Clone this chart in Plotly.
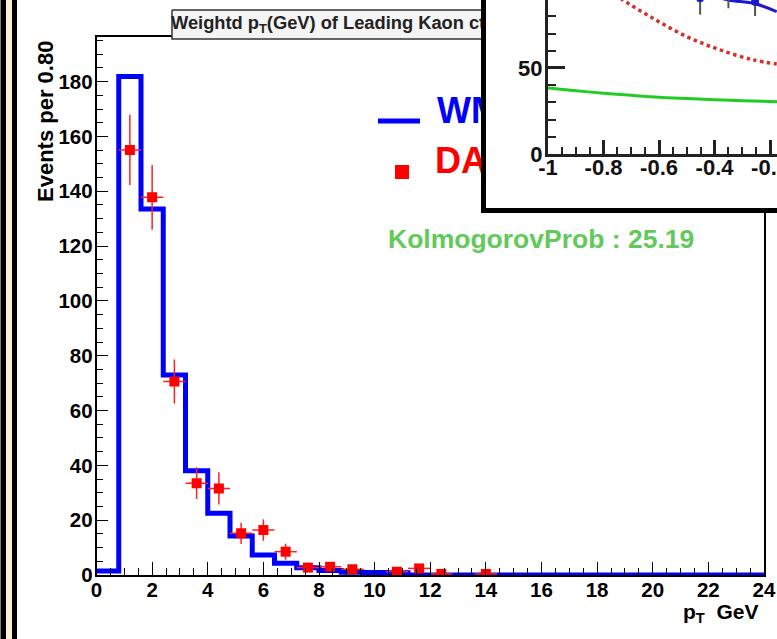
import numpy as np
import plotly.graph_objects as go

W, H = 777, 639
FONT = "Liberation Sans, Arial, Helvetica, sans-serif"


def fx(px):
    return px / W


def fy(py):
    return (H - py) / H


# ---------------- main chart data ----------------
bin_width = 0.8
mc_values = [1.5, 181.9, 133.5, 73.0, 38.0, 22.5, 14.2, 7.3, 4.3, 2.6,
             1.6, 1.0, 0.9, 0.8, 0.0, 0.0, 0.0, 0.0, 0.0, 0.0,
             0.0, 0.0, 0.0, 0.0, 0.0, 0.0, 0.0, 0.0, 0.0, 0.0]
bin_edges = np.round(np.arange(len(mc_values) + 1) * bin_width, 2)

data_x = [1.2, 2.0, 2.8, 3.6, 4.4, 5.2, 6.0, 6.8, 7.6, 8.4, 9.2, 10.8, 11.6, 12.4, 14.0]
data_y = [155.1, 137.8, 70.6, 33.5, 31.6, 15.2, 16.4, 8.5, 2.7, 3.0, 2.1, 1.2, 2.4, 0.4, 0.4]
data_err = [12.8, 11.8, 8.0, 5.8, 5.9, 3.9, 3.9, 2.9, 1.6, 1.7, 1.4, 1.0, 1.5, 0.6, 0.6]
data_xerr = [0.4] * len(data_x)

main_title = "Weightd p<sub>T</sub>(GeV) of Leading Kaon cthetastar"
legend_labels = ["WMC", "DATA"]
ks_text = "KolmogorovProb : 25.19"
y_title = "Events per 0.80"
x_title = "p<sub>T</sub>  GeV"

# ---------------- inset data ----------------
inset_green_x = [-1.0, -0.9, -0.8, -0.7, -0.6, -0.5, -0.4, -0.3, -0.175]
inset_green_y = [38.4, 36.8, 35.3, 34.1, 33.0, 32.2, 31.6, 31.0, 30.4]
inset_red_x = [-0.78, -0.73, -0.622, -0.5, -0.38, -0.261, -0.176]
inset_red_y = [95.0, 89.5, 78.9, 68.2, 60.5, 54.7, 52.3]
inset_blue_x = [-0.42, -0.35, -0.254, -0.176]
inset_blue_y = [92.5, 89.5, 87.3, 82.7]
inset_pts_x = [-0.452, -0.350, -0.254]
inset_pts_y = [90.5, 95.0, 88.5]
inset_pts_err = [9.5, 10.3, 8.3]
inset_xticks = [-1.0, -0.8, -0.6, -0.4, -0.2]
inset_xticklabels = ["-1", "-0.8", "-0.6", "-0.4", "-0.2"]
inset_yticks = [0, 50]
inset_yticklabels = ["0", "50"]

fig = go.Figure()

# ---- main subplot (x, y) ----
fig.add_trace(go.Scatter(
    x=list(bin_edges), y=mc_values + [mc_values[-1]],
    mode="lines", line=dict(color="#0000ff", width=5, shape="hv"),
    xaxis="x", yaxis="y", hoverinfo="skip"))
fig.add_trace(go.Scatter(
    x=data_x, y=data_y, mode="markers",
    marker=dict(symbol="square", size=10, color="#ff0000"),
    error_y=dict(type="data", array=data_err, color="#ff2020", thickness=1.5, width=0),
    error_x=dict(type="data", array=data_xerr, color="#ff2020", thickness=1.5, width=0),
    xaxis="x", yaxis="y"))

# ---- overlay subplot (x2, y2): title box & legend, clipped at inset border ----
box_l, box_r, box_t, box_b = 172, 700, 10, 39
fig.add_trace(go.Scatter(
    x=[box_l, box_r, box_r, box_l, box_l], y=[box_t, box_t, box_b, box_b, box_t],
    mode="lines", fill="toself", fillcolor="#f4f4f4",
    line=dict(color="#333333", width=1.5), xaxis="x2", yaxis="y2", hoverinfo="skip"))
fig.add_trace(go.Scatter(
    x=[box_l - 1], y=[24.5], mode="text", text=[main_title], textposition="middle right",
    textfont=dict(family=FONT, size=18.3, color="#222222", weight="bold"),
    xaxis="x2", yaxis="y2", hoverinfo="skip"))
fig.add_trace(go.Scatter(
    x=[378, 420], y=[121, 121], mode="lines", line=dict(color="#0000ff", width=5),
    xaxis="x2", yaxis="y2", hoverinfo="skip"))
fig.add_trace(go.Scatter(
    x=[402], y=[172], mode="markers", marker=dict(symbol="square", size=14, color="#ff0000"),
    xaxis="x2", yaxis="y2", hoverinfo="skip"))
fig.add_trace(go.Scatter(
    x=[437, 435], y=[114, 164], mode="text", text=legend_labels, textposition="middle right",
    textfont=dict(family=FONT, size=36, color=["#0000ff", "#ff0000"], weight="bold"),
    xaxis="x2", yaxis="y2", hoverinfo="skip"))

# ---- inset background (x3, y3) ----
fig.add_trace(go.Scatter(
    x=[0, 1, 1, 0, 0], y=[0, 0, 1, 1, 0], mode="lines", fill="toself",
    fillcolor="white", line=dict(width=0, color="white"),
    xaxis="x3", yaxis="y3", hoverinfo="skip"))

# ---- inset data (x4, y4) ----
fig.add_trace(go.Scatter(
    x=inset_green_x, y=inset_green_y, mode="lines",
    line=dict(color="#22cc22", width=3, shape="spline"), xaxis="x4", yaxis="y4"))
fig.add_trace(go.Scatter(
    x=inset_red_x, y=inset_red_y, mode="lines",
    line=dict(color="#d43030", width=3.5, dash="dot", shape="spline"), xaxis="x4", yaxis="y4"))
fig.add_trace(go.Scatter(
    x=inset_blue_x, y=inset_blue_y, mode="lines",
    line=dict(color="#1a1acc", width=3, shape="spline"), xaxis="x4", yaxis="y4"))
fig.add_trace(go.Scatter(
    x=inset_pts_x, y=inset_pts_y, mode="markers",
    marker=dict(size=8, color="#1a1acc"),
    error_y=dict(type="data", array=inset_pts_err, color="#555555", thickness=2, width=0),
    xaxis="x4", yaxis="y4"))

tickfont = dict(family=FONT, size=20.5, color="black", weight="bold")
inset_tickfont = dict(family=FONT, size=22, color="#111111", weight="bold")

fig.update_layout(
    width=W, height=H, autosize=False,
    margin=dict(l=0, r=0, t=0, b=0, pad=0, autoexpand=False),
    paper_bgcolor="white", plot_bgcolor="rgba(0,0,0,0)",
    showlegend=False,
    xaxis=dict(domain=[fx(96.5), fx(764)], range=[0, 24], anchor="y",
               tick0=0, dtick=2, ticks="inside", ticklen=13, tickwidth=1.2, tickcolor="black",
               minor=dict(dtick=0.5, ticks="inside", ticklen=7, tickwidth=1.2, tickcolor="black"),
               showline=True, mirror=True, linecolor="black", linewidth=1.5,
               showgrid=False, zeroline=False, tickfont=tickfont, ticklabelstandoff=-4,
               ticklabeloverflow="allow", automargin=False),
    yaxis=dict(domain=[fy(575), fy(36.7)], range=[0, 196.4], anchor="x",
               tick0=0, dtick=20, ticks="inside", ticklen=12, tickwidth=1.2, tickcolor="black",
               minor=dict(dtick=5, ticks="inside", ticklen=7, tickwidth=1.2, tickcolor="black"),
               showline=True, mirror=True, linecolor="black", linewidth=1.5,
               showgrid=False, zeroline=False, tickfont=tickfont, ticklabelstandoff=-2,
               automargin=False),
    xaxis2=dict(domain=[0, fx(481)], range=[0, 481], anchor="y2", visible=False),
    yaxis2=dict(domain=[0, 1], range=[H, 0], anchor="x2", visible=False),
    xaxis3=dict(domain=[fx(481), 1], range=[0, 1], anchor="y3", visible=False),
    yaxis3=dict(domain=[fy(211), 1], range=[0, 1], anchor="x3", visible=False),
    xaxis4=dict(domain=[fx(548), 1], range=[-1, -0.175], anchor="y4",
                tickvals=inset_xticks, ticktext=inset_xticklabels,
                ticks="inside", ticklen=14, tickwidth=2.5, tickcolor="#222222",
                minor=dict(tick0=-1, dtick=0.05, ticks="inside", ticklen=7, tickwidth=2,
                           tickcolor="#222222"),
                showline=True, linecolor="#222222", linewidth=3,
                showgrid=False, zeroline=False, tickfont=inset_tickfont, ticklabelstandoff=-8,
                ticklabeloverflow="allow", automargin=False),
    yaxis4=dict(domain=[fy(154), 1], range=[0, 89.5], anchor="x4",
                tickvals=inset_yticks, ticktext=inset_yticklabels,
                ticks="inside", ticklen=17, tickwidth=2.5, tickcolor="#222222",
                minor=dict(tick0=0, dtick=10, ticks="inside", ticklen=8, tickwidth=2,
                           tickcolor="#222222"),
                showline=True, linecolor="#222222", linewidth=3,
                showgrid=False, zeroline=False, tickfont=inset_tickfont, ticklabelstandoff=-2,
                automargin=False),
    shapes=[
        dict(type="rect", xref="paper", yref="paper", x0=fx(0.5), x1=fx(6), y0=0, y1=1,
             fillcolor="black", line=dict(width=0), layer="below"),
        dict(type="rect", xref="paper", yref="paper", x0=fx(6), x1=fx(12), y0=0, y1=1,
             fillcolor="#fcefd6", line=dict(width=0), layer="below"),
        dict(type="rect", xref="paper", yref="paper", x0=fx(12), x1=fx(17), y0=0, y1=1,
             fillcolor="black", line=dict(width=0), layer="below"),
        dict(type="rect", xref="paper", yref="paper", x0=fx(483.5), x1=1.05, y0=fy(210.5), y1=1.05,
             fillcolor="rgba(0,0,0,0)", line=dict(width=5, color="black"), layer="above"),
    ],
    annotations=[
        dict(text=ks_text, xref="paper", yref="paper", x=fx(540.5), y=fy(239),
             xanchor="center", yanchor="middle", showarrow=False,
             font=dict(family=FONT, size=26.5, color="#63c95a", weight="bold")),
        dict(text=y_title, xref="paper", yref="paper", x=fx(46), y=fy(122),
             xanchor="center", yanchor="middle", showarrow=False, textangle=-90,
             font=dict(family=FONT, size=22, color="black", weight="bold")),
        dict(text=x_title, xref="paper", yref="paper", x=fx(761), y=fy(613),
             xanchor="right", yanchor="middle", showarrow=False,
             font=dict(family=FONT, size=21, color="black", weight="bold")),
    ],
)

fig.write_html("out.html")
